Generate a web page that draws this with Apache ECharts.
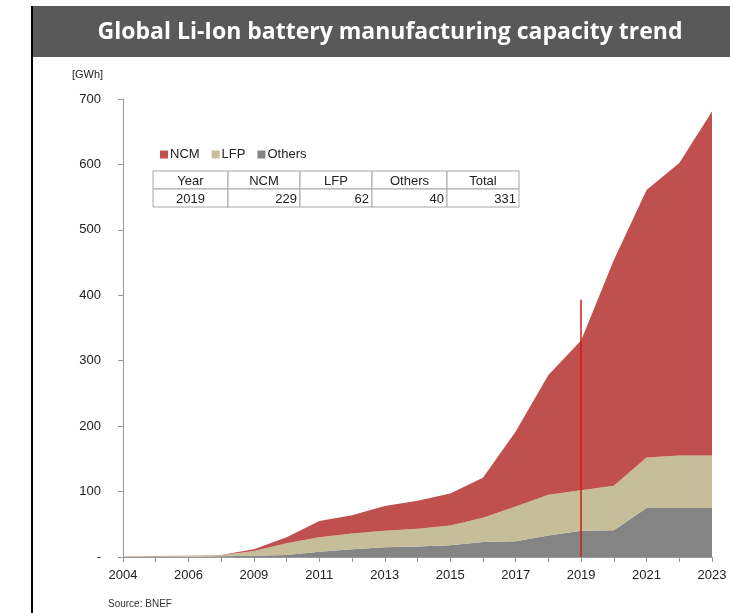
<!DOCTYPE html>
<html>
<head>
<meta charset="utf-8">
<script src="https://cdn.jsdelivr.net/npm/echarts@6/dist/echarts.min.js"></script>
<style>
html,body{margin:0;padding:0;background:#fff;}
#chart{width:730px;height:613px;}
</style>
</head>
<body>
<div id="chart"></div>
<script>
var years = ['2004','2005','2006','2008','2009','2010','2011','2012','2013','2014','2015','2016','2017','2018','2019','2020','2021','2022','2023'];
var others = [0.5,0.5,0.5,1,2,3,8,12,15,16,18,23,24,33,40,41,75,75,75];
var lfp    = [0.5,0.5,1,1.5,7,18,22,24,25,27,30,37,53,62,62,68,77,80,80];
var ncm    = [0.3,0.6,0.5,0.5,3,9,25,28,38,43,49,61,115,183,229,345,409,447,526];
var yTicks = [0,100,200,300,400,500,600,700];
var markYear = '2019';
var markTop = 393;
var tableHeader = ['Year','NCM','LFP','Others','Total'];
var tableRow = ['2019','229','62','40','331'];

var colors = {NCM:'#c0504d', LFP:'#c6be99', Others:'#848484'};

var chart = echarts.init(document.getElementById('chart'));

var colX = [153,228,300,372,447,519];
var rowY = [171,189,207];
var tableEls = [];
for (var r=0;r<2;r++){
  for (var c=0;c<5;c++){
    tableEls.push({type:'rect', shape:{x:colX[c], y:rowY[r], width:colX[c+1]-colX[c], height:rowY[r+1]-rowY[r]},
      style:{fill:'#fff', stroke:'#a6a6a6', lineWidth:1}});
    var txt = r===0 ? tableHeader[c] : tableRow[c];
    var align = (r===0 || c===0) ? 'center' : 'right';
    var tx = align==='center' ? (colX[c]+colX[c+1])/2 : colX[c+1]-3;
    tableEls.push({type:'text', x:tx, y:(rowY[r]+rowY[r+1])/2+1,
      style:{text:txt, fill:'#222', font:'13px "Liberation Sans", Arial, sans-serif', align:align, verticalAlign:'middle'}});
  }
}

var option = {
  animation:false,
  grid:{left:123, right:18, top:99, bottom:56},
  legend:{
    data:['NCM','LFP','Others'],
    left:155, top:143, icon:'rect', itemWidth:8, itemHeight:8, itemGap:12,
    textStyle:{fontFamily:'"Liberation Sans", Arial, sans-serif', fontSize:13, color:'#222', padding:[0,0,0,-3]}
  },
  xAxis:{
    type:'category', data:years, boundaryGap:false,
    axisLine:{lineStyle:{color:'#999', width:1}},
    axisTick:{show:true, interval:0, length:5, lineStyle:{color:'#999'}},
    axisLabel:{interval:1, color:'#222', fontSize:13, fontFamily:'"Liberation Sans", Arial, sans-serif', margin:12}
  },
  yAxis:{
    type:'value', min:0, max:700, interval:100,
    axisLine:{show:true, lineStyle:{color:'#999'}},
    axisTick:{show:true, inside:false, length:5, lineStyle:{color:'#999'}},
    splitLine:{show:false},
    axisLabel:{color:'#222', fontSize:13, fontFamily:'"Liberation Sans", Arial, sans-serif', margin:22,
      formatter:function(v){ return v===0 ? '-' : String(v); }}
  },
  series:[
    {name:'Others', type:'line', stack:'t', data:others, showSymbol:false, symbol:'none', lineStyle:{width:0},
      itemStyle:{color:colors.Others}, areaStyle:{color:colors.Others, opacity:1}},
    {name:'LFP', type:'line', stack:'t', data:lfp, showSymbol:false, symbol:'none', lineStyle:{width:0},
      itemStyle:{color:colors.LFP}, areaStyle:{color:colors.LFP, opacity:1}},
    {name:'NCM', type:'line', stack:'t', data:ncm, showSymbol:false, symbol:'none', lineStyle:{width:0},
      itemStyle:{color:colors.NCM}, areaStyle:{color:colors.NCM, opacity:1},
      markLine:{silent:true, symbol:'none', label:{show:false},
        lineStyle:{color:'#d01818', width:1.5, type:'solid'},
        data:[[{coord:[markYear,0]},{coord:[markYear,markTop]}]]}}
  ],
  graphic:[
    {type:'rect', shape:{x:32, y:6, width:698, height:51}, style:{fill:'#595959'}},
    {type:'text', x:390, y:32, style:{text:'Global Li-Ion battery manufacturing capacity trend', fill:'#fff',
      font:'bold 23px "Open Sans", Lato, sans-serif', align:'center', verticalAlign:'middle'}},
    {type:'line', shape:{x1:32, y1:6, x2:32, y2:613}, style:{stroke:'#000', lineWidth:2}},
    {type:'text', x:72, y:75, style:{text:'[GWh]', fill:'#222', font:'11px "Liberation Sans", Arial, sans-serif', verticalAlign:'middle'}},
    {type:'text', x:108, y:604, style:{text:'Source: BNEF', fill:'#333', font:'10px "Liberation Sans", Arial, sans-serif', verticalAlign:'middle'}}
  ].concat(tableEls)
};
chart.setOption(option);
</script>
</body>
</html>
